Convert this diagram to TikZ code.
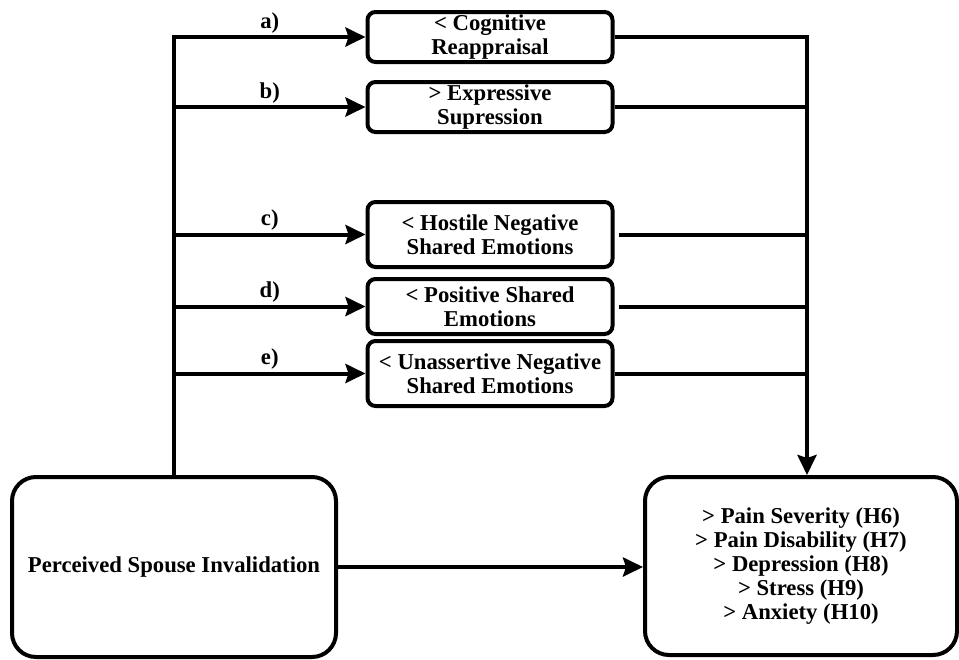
\documentclass[tikz,border=0pt]{standalone}
\usepackage{fontspec}
\setmainfont{Liberation Serif}
\usetikzlibrary{arrows.meta}
\usetikzlibrary{positioning}

\begin{document}
\begin{tikzpicture}[
    x=1pt, y=-1pt,
    line width=4pt,
    font=\fontsize{22.7}{24}\selectfont\bfseries,
    box/.style={draw, rounded corners=8pt, align=center, inner sep=0pt, minimum width=245pt},
    bigbox/.style={draw, rounded corners=24pt, align=center},
    arr/.style={-{Stealth[length=20pt,width=19pt,inset=3pt]}},
    lbl/.style={above, inner sep=2pt},
 ]
    \fill[white, use as bounding box] (0,0) rectangle (959,659);

    \node[bigbox, minimum width=324pt, minimum height=180pt] (SPI) at (174,567) {Perceived Spouse Invalidation};
    \node[bigbox, minimum width=312pt, minimum height=178pt] (OUT) at (801,566)
        {> Pain Severity (H6)\\> Pain Disability (H7)\\> Depression (H8)\\> Stress (H9)\\> Anxiety (H10)};

    \node[box, minimum height=50pt] (CR) at (490,37) {< Cognitive\\Reappraisal};
    \node[box, minimum height=50pt, below=16pt of CR] (ES) {> Expressive\\Supression};
    \node[box, minimum height=65pt] (HNSE) at (490,234.5) {< Hostile Negative\\Shared Emotions};
    \node[box, minimum height=55pt, below=8pt of HNSE] (PSE) {< Positive Shared\\Emotions};
    \node[box, minimum height=65pt, below=3pt of PSE] (UNSE) {< Unassertive Negative\\Shared Emotions};

    % left side: a) to e)
    \foreach \n/\l in {CR/a, ES/b, HNSE/c, PSE/d, UNSE/e}
        \draw[arr] (SPI.north) |- node[lbl, pos=0.75] {\l)} (\n.west);

    % right side into the outcomes
    \coordinate (J) at ([xshift=6pt]OUT.north);
    \draw[arr] (CR.east) -| (J);
    \draw (ES.east) -- (ES.east -| J);
    \draw[shorten <=4pt] (HNSE.east) -- (HNSE.east -| J);
    \draw[shorten <=4pt] (PSE.east) -- (PSE.east -| J);
    \draw (UNSE.east) -- (UNSE.east -| J);

    \draw[arr] (SPI.east) -- (SPI.east -| OUT.west);
\end{tikzpicture}
\end{document}
